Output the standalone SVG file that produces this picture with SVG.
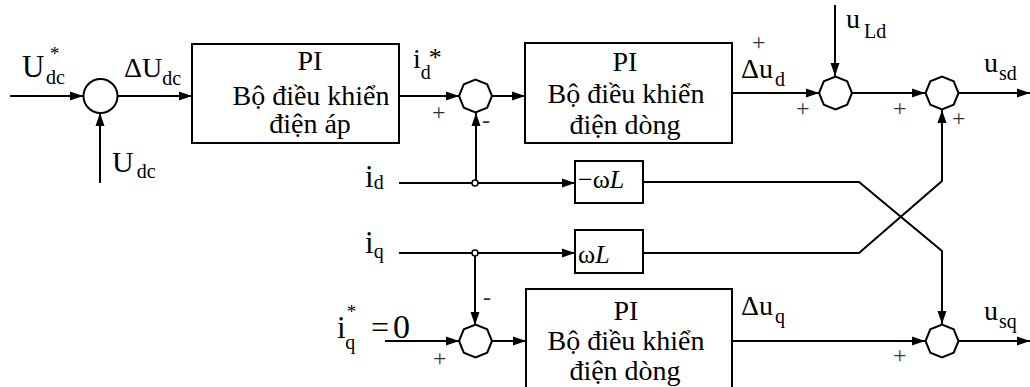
<svg xmlns="http://www.w3.org/2000/svg" xmlns:xlink="http://www.w3.org/1999/xlink" width="1030" height="387" viewBox="0 0 1030 387">
<style>
.ln{fill:none;stroke:#000;stroke-width:2}
.bx{fill:#fff;stroke:#000;stroke-width:2}
.sum{fill:#fff;stroke:#000;stroke-width:2}
text{font-family:'Liberation Serif','DejaVu Serif',serif;fill:#000}
.bt{font-size:28px;text-anchor:middle}
.pm{font-size:24px;fill:#333}
.sb{font-size:20px}
</style>
<defs>
<marker id="ar" markerUnits="userSpaceOnUse" markerWidth="14" markerHeight="10" refX="13" refY="5" orient="auto">
<path d="M0,0.5 L13,5 L0,9.5 z" fill="#000"/>
</marker>
<polygon id="oct" points="16.5,0 11.7,11.7 0,16.5 -11.7,11.7 -16.5,0 -11.7,-11.7 0,-16.5 11.7,-11.7"/>
</defs>
<g id="connectors">
<path class="ln" d="M10,96 H83" marker-end="url(#ar)"/>
<path class="ln" d="M100,183 V113" marker-end="url(#ar)"/>
<path class="ln" d="M118,96 H192" marker-end="url(#ar)"/>
<path class="ln" d="M399,96 H459" marker-end="url(#ar)"/>
<path class="ln" d="M492,96 H525" marker-end="url(#ar)"/>
<path class="ln" d="M476,183 V113" marker-end="url(#ar)"/>
<path class="ln" d="M399,183 H575" marker-end="url(#ar)"/>
<path class="ln" d="M399,253 H575" marker-end="url(#ar)"/>
<path class="ln" d="M475,253 V325" marker-end="url(#ar)"/>
<path class="ln" d="M385,341 H459" marker-end="url(#ar)"/>
<path class="ln" d="M492,341 H526" marker-end="url(#ar)"/>
<path class="ln" d="M732,93 H819" marker-end="url(#ar)"/>
<path class="ln" d="M835,5 V76" marker-end="url(#ar)"/>
<path class="ln" d="M852,93 H925" marker-end="url(#ar)"/>
<path class="ln" d="M958,93 H1030" marker-end="url(#ar)"/>
<path class="ln" d="M643,253 H859 L942,181 V110" marker-end="url(#ar)"/>
<path class="ln" d="M643,182 H859 L942,251 V324" marker-end="url(#ar)"/>
<path class="ln" d="M732,341 H925" marker-end="url(#ar)"/>
<path class="ln" d="M958,341 H1030" marker-end="url(#ar)"/>
<circle cx="475" cy="183" r="3" fill="#fff" stroke="#000" stroke-width="1.5"/>
<circle cx="475" cy="253" r="3" fill="#fff" stroke="#000" stroke-width="1.5"/>
</g>
<g id="sum1"><circle class="sum" cx="100.5" cy="96" r="17"/></g>
<g id="sum2"><use xlink:href="#oct" href="#oct" x="475.5" y="96" class="sum"/></g>
<g id="sum3"><use xlink:href="#oct" href="#oct" x="475.5" y="341" class="sum"/></g>
<g id="sum4"><use xlink:href="#oct" href="#oct" x="835.5" y="93" class="sum"/></g>
<g id="sum5"><use xlink:href="#oct" href="#oct" x="942" y="93" class="sum"/></g>
<g id="sum6"><use xlink:href="#oct" href="#oct" x="942" y="341" class="sum"/></g>
<g id="pi-voltage">
<rect class="bx" x="192" y="44" width="207" height="99"/>
<text class="bt" x="310" y="70">PI</text>
<text class="bt" x="311" y="105">Bộ điều khiển</text>
<text class="bt" x="310" y="133">điện áp</text>
</g>
<g id="pi-current-d">
<rect class="bx" x="525" y="43" width="207" height="100"/>
<text class="bt" x="625" y="71">PI</text>
<text class="bt" x="626" y="103">Bộ điều khiển</text>
<text class="bt" x="625" y="134">điện dòng</text>
</g>
<g id="pi-current-q">
<rect class="bx" x="526" y="289" width="206" height="102"/>
<text class="bt" x="626" y="320">PI</text>
<text class="bt" x="626" y="350">Bộ điều khiển</text>
<text class="bt" x="625" y="380">điện dòng</text>
</g>
<g id="neg-wL">
<rect class="bx" x="575" y="161" width="68" height="42"/>
<text x="578" y="188" font-size="26">−ω<tspan font-style="italic">L</tspan></text>
</g>
<g id="wL">
<rect class="bx" x="575" y="230" width="68" height="43"/>
<text x="578" y="263" font-size="26">ω<tspan font-style="italic">L</tspan></text>
</g>
<g id="labels">
<text x="22" y="77" font-size="31">U<tspan font-size="19" x="50" y="60">*</tspan><tspan class="sb" x="46" y="84">dc</tspan></text>
<text x="124" y="77" font-size="28">ΔU<tspan class="sb" dy="8">dc</tspan></text>
<text x="112" y="172" font-size="30">U<tspan class="sb" dx="3" dy="6">dc</tspan></text>
<text x="413" y="68" font-size="28">i<tspan class="sb" dy="11">d</tspan><tspan font-size="26" dx="-2" dy="-13">*</tspan></text>
<text x="365" y="187" font-size="31">i<tspan class="sb" dy="2">d</tspan></text>
<text x="365" y="253" font-size="31">i<tspan class="sb" dy="5">q</tspan></text>
<text x="337" y="338" font-size="31">i<tspan font-size="19" dx="1" dy="-20">*</tspan><tspan class="sb" dx="-11" dy="31">q</tspan><tspan font-size="32" x="371" y="338">=</tspan><tspan font-size="34" x="393" y="338">0</tspan></text>
<text x="741" y="78" font-size="28">Δu<tspan class="sb" dx="2" dy="8">d</tspan></text>
<text x="846" y="28" font-size="28">u<tspan class="sb" dx="4" dy="10">Ld</tspan></text>
<text x="984" y="72" font-size="28">u<tspan class="sb" dx="1" dy="8">sd</tspan></text>
<text x="741" y="315" font-size="28">Δu<tspan class="sb" dx="2" dy="8">q</tspan></text>
<text x="984" y="320" font-size="28">u<tspan class="sb" dx="1" dy="8">sq</tspan></text>
<text class="pm" x="432" y="120">+</text>
<text class="pm" x="482" y="128" font-size="20">-</text>
<text class="pm" x="752" y="50" font-size="22">+</text>
<text class="pm" x="796" y="116">+</text>
<text class="pm" x="893" y="116">+</text>
<text class="pm" x="952" y="126">+</text>
<text class="pm" x="483" y="305" font-size="20">-</text>
<text class="pm" x="433" y="366">+</text>
<text class="pm" x="893" y="363">+</text>
</g>
</svg>
